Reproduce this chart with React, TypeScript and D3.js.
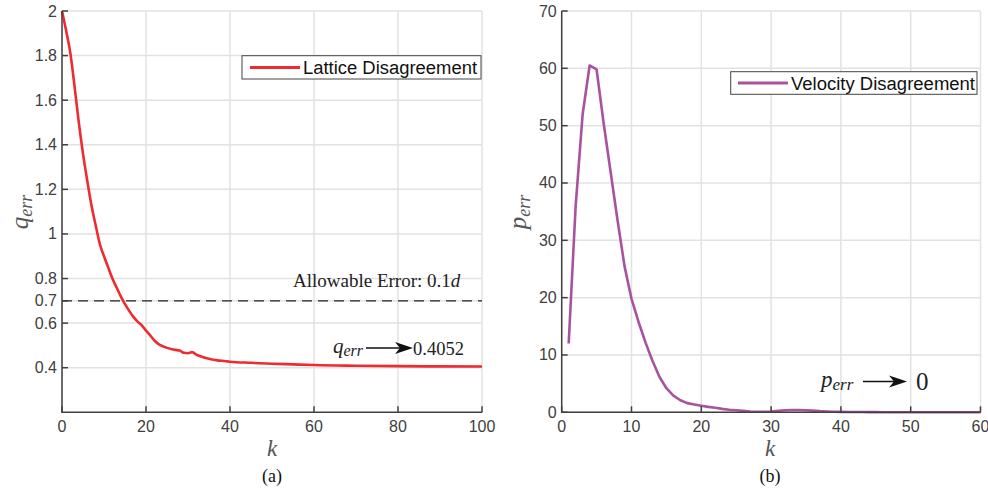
import React from "react";
import * as d3 from "d3";

// Left panel: lattice disagreement q_err vs k
const qK = [0,1,2,3,4,5,6,7,8,9,10,11,12,13,14,15,16,17,18,19,20,21,22,23,24,25,26,27,28,29,30,31,32,33,34,35,36,37,38,39,40,45,50,55,60,70,80,90,100];
const qErr = [2.0,1.91,1.81,1.66,1.50,1.36,1.24,1.13,1.04,0.955,0.90,0.85,0.80,0.76,0.72,0.685,0.655,0.628,0.607,0.59,0.566,0.545,0.522,0.506,0.496,0.489,0.484,0.48,0.477,0.467,0.465,0.470,0.458,0.451,0.445,0.440,0.436,0.433,0.431,0.429,0.427,0.422,0.418,0.415,0.412,0.409,0.407,0.406,0.4052];
const qYTicks = [0.4,0.6,0.7,0.8,1,1.2,1.4,1.6,1.8,2];
const qXTicks = [0,20,40,60,80,100];

// Right panel: velocity disagreement p_err vs k
const pK = d3.range(1, 61);
const pErr = [12,36,52,60.5,59.8,50.5,42,33.5,25.5,19.8,15.8,12.2,9.0,6.2,4.2,2.9,2.1,1.6,1.35,1.15,0.95,0.8,0.6,0.45,0.35,0.25,0.15,0.1,0.1,0.15,0.25,0.35,0.4,0.4,0.35,0.3,0.2,0.15,0.1,0.08,0.06,0.05,0.04,0.03,0.03,0.02,0.02,0.01,0.01,0.01,0,0,0,0,0,0,0,0,0,0];
const pYTicks = [0,10,20,30,40,50,60,70];
const pXTicks = [0,10,20,30,40,50,60];

const TICK_FONT = "'Liberation Sans', Arial, sans-serif";
const SERIF = "'Liberation Serif', 'DejaVu Serif', serif";
const AXIS = "#404040";
const GRID = "#e2e2e2";

function Arrow({ x1, x2, y }: { x1: number; x2: number; y: number }) {
  return (
    <g>
      <line x1={x1} x2={x2 - 8} y1={y} y2={y} stroke="#111" strokeWidth={1.4} />
      <path d={`M${x2},${y} L${x2 - 18},${y - 6} L${x2 - 13},${y} L${x2 - 18},${y + 6} Z`} fill="#111" />
    </g>
  );
}

function Panel(props: {
  x0: number; x1: number; y0: number; y1: number;
  xDomain: [number, number]; yDomain: [number, number];
  xTicks: number[]; yTicks: number[];
  xs: number[]; ys: number[]; color: string; curve: any;
  children?: (x: any, y: any) => React.ReactNode;
}) {
  const x = d3.scaleLinear().domain(props.xDomain).range([props.x0, props.x1]);
  const y = d3.scaleLinear().domain(props.yDomain).range([props.y1, props.y0]);
  const pts = props.xs.map((k, i) => [k, props.ys[i]] as [number, number]);
  const line = d3.line<[number, number]>().x(d => x(d[0])).y(d => y(d[1])).curve(props.curve);
  return (
    <g>
      {props.xTicks.map(t => (
        <line key={"gx" + t} x1={x(t)} x2={x(t)} y1={props.y0} y2={props.y1} stroke={GRID} strokeWidth={1.5} />
      ))}
      {props.yTicks.map(t => (
        <line key={"gy" + t} x1={props.x0} x2={props.x1} y1={y(t)} y2={y(t)} stroke={GRID} strokeWidth={1.5} />
      ))}
      {props.children ? props.children(x, y) : null}
      <path d={line(pts) || ""} fill="none" stroke={props.color} strokeWidth={2.6} strokeLinejoin="round" />
      <line x1={props.x0} x2={props.x0} y1={props.y0} y2={props.y1 + 0.75} stroke={AXIS} strokeWidth={1.5} />
      <line x1={props.x0} x2={props.x1} y1={props.y1} y2={props.y1} stroke={AXIS} strokeWidth={1.5} />
      {props.yTicks.map(t => (
        <g key={"ty" + t}>
          <line x1={props.x0} x2={props.x0 + 6} y1={y(t)} y2={y(t)} stroke={AXIS} strokeWidth={1.5} />
          <text x={props.x0 - 5} y={y(t) + 5.5} textAnchor="end" fontFamily={TICK_FONT} fontSize={16} fill={AXIS}>{t}</text>
        </g>
      ))}
      {props.xTicks.map(t => (
        <g key={"tx" + t}>
          <line x1={x(t)} x2={x(t)} y1={props.y1} y2={props.y1 - 6} stroke={AXIS} strokeWidth={1.5} />
          <text x={x(t)} y={props.y1 + 20} textAnchor="middle" fontFamily={TICK_FONT} fontSize={16} fill={AXIS}>{t}</text>
        </g>
      ))}
    </g>
  );
}

export default function App() {
  return (
    <svg width={988} height={489} style={{ position: "absolute", left: 0, top: 0, background: "#fff" }}>
      <rect x={0} y={0} width={988} height={489} fill="#fff" />
      <Panel x0={62} x1={482} y0={11} y1={412.3} xDomain={[0, 100]} yDomain={[0.2, 2]}
        xTicks={qXTicks} yTicks={qYTicks} xs={qK} ys={qErr} color="#ee2b30" curve={d3.curveMonotoneX}>
        {(x, y) => (
          <g>
            <line x1={x(0)} x2={x(100)} y1={y(0.7)} y2={y(0.7)} stroke="#222" strokeWidth={1.4} strokeDasharray="10,6" />
          </g>
        )}
      </Panel>
      <Panel x0={561.7} x1={980.5} y0={11} y1={412.3} xDomain={[0, 60]} yDomain={[0, 70]}
        xTicks={pXTicks} yTicks={pYTicks} xs={pK} ys={pErr} color="#a9529f" curve={d3.curveLinear} />

      {/* Left legend */}
      <rect x={242} y={55.7} width={239} height={23.3} fill="#fff" stroke="#444" strokeWidth={1} />
      <line x1={250} x2={300} y1={67.5} y2={67.5} stroke="#ee2b30" strokeWidth={3} />
      <text x={303} y={74} textLength={174} lengthAdjust="spacingAndGlyphs" fontFamily={TICK_FONT} fontSize={18} fill="#111">Lattice Disagreement</text>

      {/* Right legend */}
      <rect x={730.7} y={71.7} width={246.3} height={22.6} fill="#fff" stroke="#444" strokeWidth={1} />
      <line x1={738} x2={788} y1={83} y2={83} stroke="#a9529f" strokeWidth={3} />
      <text x={791} y={89.5} textLength={184} lengthAdjust="spacingAndGlyphs" fontFamily={TICK_FONT} fontSize={18} fill="#111">Velocity Disagreement</text>

      {/* Left annotations */}
      <text x={293} y={287} fontFamily={SERIF} fontSize={19} fill="#222">Allowable Error: 0.1<tspan fontStyle="italic">d</tspan></text>
      <text x={333} y={353} fontFamily={SERIF} fontSize={21} fontStyle="italic" fill="#222">q<tspan fontSize={16} dy={3}>err</tspan></text>
      <Arrow x1={366} x2={413} y={348} />
      <text x={413} y={355} fontFamily={SERIF} fontSize={18.5} fill="#222">0.4052</text>

      {/* Right annotations */}
      <text x={821} y={387} fontFamily={SERIF} fontSize={23} fontStyle="italic" fill="#222">p<tspan fontSize={17} dy={3}>err</tspan></text>
      <Arrow x1={863} x2={907} y={381.5} />
      <text x={916} y={390} fontFamily={SERIF} fontSize={25} fill="#222">0</text>

      {/* Axis labels */}
      <text transform="translate(28,212) rotate(-90)" textAnchor="middle" fontFamily={SERIF} fontSize={25} fontStyle="italic" fill="#555">q<tspan fontSize={18} dy={4}>err</tspan></text>
      <text transform="translate(526,212) rotate(-90)" textAnchor="middle" fontFamily={SERIF} fontSize={25} fontStyle="italic" fill="#555">p<tspan fontSize={18} dy={4}>err</tspan></text>
      <text x={272} y={456} textAnchor="middle" fontFamily={SERIF} fontSize={23} fontStyle="italic" fill="#555">k</text>
      <text x={770} y={456} textAnchor="middle" fontFamily={SERIF} fontSize={23} fontStyle="italic" fill="#555">k</text>
      <text x={272} y={482} textAnchor="middle" fontFamily={SERIF} fontSize={18} fill="#111">(a)</text>
      <text x={770} y={482} textAnchor="middle" fontFamily={SERIF} fontSize={18} fill="#111">(b)</text>
    </svg>
  );
}
